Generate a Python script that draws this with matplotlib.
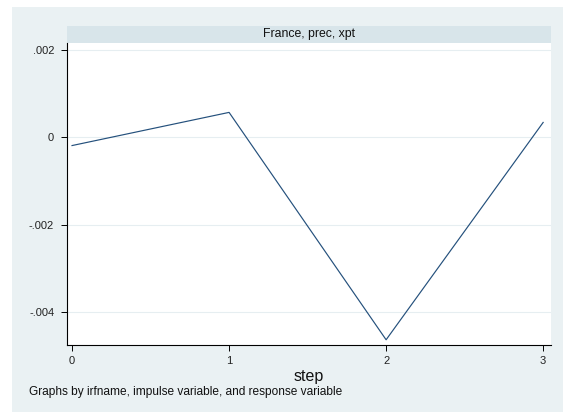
import matplotlib
matplotlib.use("Agg")
import matplotlib.pyplot as plt
from matplotlib.patches import Rectangle

plt.rcParams['font.family'] = ['Liberation Sans', 'DejaVu Sans']

# Impulse-response values by step
steps = [0, 1, 2, 3]
irf = [-0.00019, 0.00057, -0.00464, 0.00034]

y_ticks = [0.002, 0.0, -0.002, -0.004]
y_tick_labels = [".002", "0", "-.002", "-.004"]
x_ticks = [0, 1, 2, 3]

panel_title = "France, prec, xpt"
x_title = "step"
note = "Graphs by irfname, impulse variable, and response variable"

W, H = 563, 412
fig = plt.figure(figsize=(W / 100, H / 100), dpi=100)
fig.patch.set_facecolor("white")

bg = "#eaf1f3"
strip = "#d8e5ea"
navy = "#24507c"

# graph region background
fig.patches.append(Rectangle((11.5 / W, 0), 1 - 11.5 / W, 1 - 7 / H,
                             transform=fig.transFigure, facecolor=bg,
                             edgecolor="none", zorder=-5))

left, right, top, bottom = 66.7 / W, 551 / W, 1 - 43 / H, 1 - 345 / H
ax = fig.add_axes([left, bottom, right - left, top - bottom])
ax.set_facecolor("white")
ax.set_zorder(2)

# title strip above the panel
fig.patches.append(Rectangle((left, top), right - left, 17 / H,
                             transform=fig.transFigure, facecolor=strip,
                             edgecolor="none", zorder=1))
fig.text((left + right) / 2, top + 8.5 / H, panel_title, ha="center",
         va="center", fontsize=8.8, color="#111111")

ax.plot(steps, irf, color=navy, linewidth=0.85, zorder=3)

ax.set_xlim(-0.034, 3.05)
ax.set_ylim(-0.00476, 0.00216)
ax.set_yticks(y_ticks)
ax.set_yticklabels(y_tick_labels)
ax.set_xticks(x_ticks)
ax.set_xticklabels([str(t) for t in x_ticks])

for y in y_ticks:
    ax.axhline(y, color="#e6eef1", linewidth=0.8, zorder=1)

for side in ("top", "right"):
    ax.spines[side].set_visible(False)
for side in ("left", "bottom"):
    ax.spines[side].set_color("#000000")
    ax.spines[side].set_linewidth(0.8)

ax.tick_params(axis="both", direction="out", length=4, width=0.7,
               labelsize=8, colors="#000000", labelcolor="#222222")
ax.tick_params(axis="y", pad=5)
ax.tick_params(axis="x", pad=4)

fig.text((left + right) / 2, 1 - 376.5 / H, x_title, ha="center",
         va="center", fontsize=11.5, color="#111111")
fig.text(29 / W, 1 - 391.5 / H, note, ha="left", va="center",
         fontsize=8.6, color="#111111")

fig.savefig("out.png", dpi=100, facecolor="white")
